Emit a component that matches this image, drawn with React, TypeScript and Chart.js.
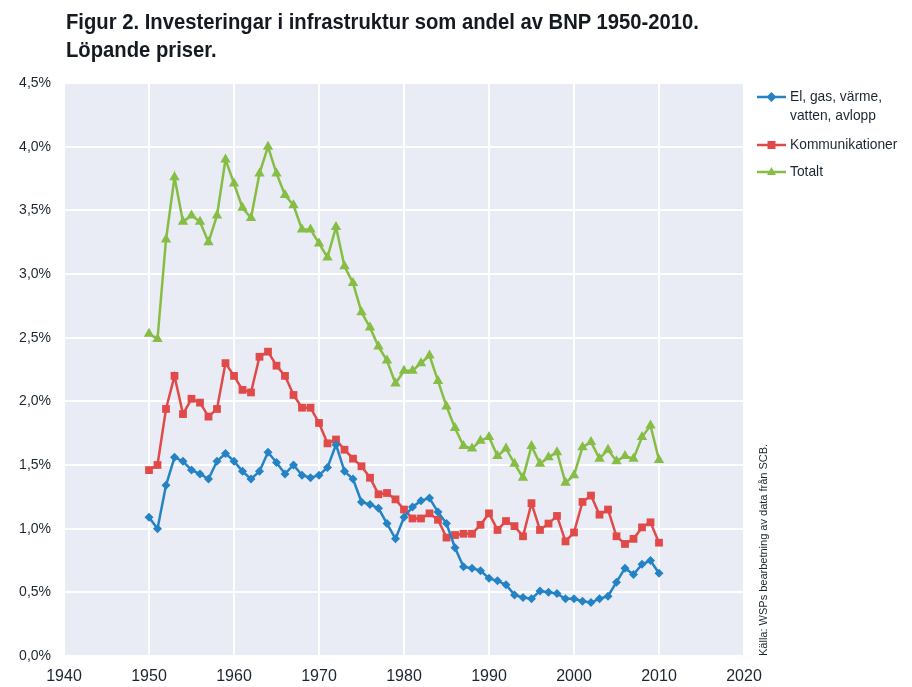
import React, { useEffect, useRef } from "react";
import { Chart, registerables } from "chart.js";

Chart.register(...registerables);

const years = [
  1950, 1951, 1952, 1953, 1954, 1955, 1956, 1957, 1958, 1959,
  1960, 1961, 1962, 1963, 1964, 1965, 1966, 1967, 1968, 1969,
  1970, 1971, 1972, 1973, 1974, 1975, 1976, 1977, 1978, 1979,
  1980, 1981, 1982, 1983, 1984, 1985, 1986, 1987, 1988, 1989,
  1990, 1991, 1992, 1993, 1994, 1995, 1996, 1997, 1998, 1999,
  2000, 2001, 2002, 2003, 2004, 2005, 2006, 2007, 2008, 2009,
  2010,
];

const elGasVarme = [
  1.09, 1.0, 1.34, 1.56, 1.53, 1.46, 1.43, 1.39, 1.53, 1.59,
  1.53, 1.45, 1.39, 1.45, 1.6, 1.52, 1.43, 1.5, 1.42, 1.4,
  1.42, 1.48, 1.66, 1.45, 1.39, 1.21, 1.19, 1.16, 1.04, 0.92,
  1.09, 1.17, 1.22, 1.24, 1.13, 1.04, 0.85, 0.7, 0.69, 0.67,
  0.61, 0.59, 0.56, 0.48, 0.46, 0.45, 0.51, 0.5, 0.49, 0.45,
  0.45, 0.43, 0.42, 0.45, 0.47, 0.58, 0.69, 0.64, 0.72, 0.75,
  0.65,
];

const kommunikationer = [
  1.46, 1.5, 1.94, 2.2, 1.9, 2.02, 1.99, 1.88, 1.94, 2.3,
  2.2, 2.09, 2.07, 2.35, 2.39, 2.28, 2.2, 2.05, 1.95, 1.95,
  1.83, 1.67, 1.7, 1.62, 1.55, 1.49, 1.4, 1.27, 1.28, 1.23,
  1.15, 1.08, 1.08, 1.12, 1.07, 0.93, 0.95, 0.96, 0.96, 1.03,
  1.12, 0.99, 1.06, 1.02, 0.94, 1.2, 0.99, 1.04, 1.1, 0.9,
  0.97, 1.21, 1.26, 1.11, 1.15, 0.94, 0.88, 0.92, 1.01, 1.05,
  0.89,
];

const totalt = [
  2.53, 2.49, 3.27, 3.76, 3.41, 3.46, 3.41, 3.25, 3.46, 3.9,
  3.71, 3.52, 3.44, 3.79, 4.0, 3.79, 3.62, 3.54, 3.35, 3.35,
  3.24, 3.13, 3.37, 3.06, 2.93, 2.7, 2.58, 2.43, 2.32, 2.14,
  2.24, 2.24, 2.3, 2.36, 2.16, 1.96, 1.79, 1.65, 1.63, 1.69,
  1.72, 1.57, 1.63, 1.51, 1.4, 1.65, 1.51, 1.56, 1.6, 1.36,
  1.42, 1.64, 1.68, 1.55, 1.62, 1.53, 1.57, 1.55, 1.72, 1.81,
  1.54,
];

const seriesLabels = [
  ["El, gas, värme,", "vatten, avlopp"],
  ["Kommunikationer"],
  ["Totalt"],
];

const titleLines = [
  "Figur 2. Investeringar i infrastruktur som andel av BNP 1950-2010.",
  "Löpande priser.",
];

const sourceText = "Källa: WSPs bearbetning av data från SCB.";

const FONT = '"Liberation Sans", Arial, sans-serif';

const BLUE = "#2483c5";
const RED = "#e04a48";
const GREEN = "#86bd45";
const TEXT = "#1d2533";

function drawMarker(ctx: CanvasRenderingContext2D, shape: string, x: number, y: number, r: number) {
  ctx.beginPath();
  if (shape === "rectRot") {
    ctx.moveTo(x, y - r);
    ctx.lineTo(x + r, y);
    ctx.lineTo(x, y + r);
    ctx.lineTo(x - r, y);
  } else if (shape === "rect") {
    ctx.rect(x - r * 0.8, y - r * 0.8, r * 1.6, r * 1.6);
  } else {
    ctx.moveTo(x, y - r);
    ctx.lineTo(x + r * 0.9, y + r * 0.6);
    ctx.lineTo(x - r * 0.9, y + r * 0.6);
  }
  ctx.closePath();
  ctx.fill();
}

const bgPlugin = {
  id: "plotBg",
  beforeDraw(chart: any) {
    const { ctx, chartArea } = chart;
    ctx.save();
    ctx.fillStyle = "#e9ecf4";
    ctx.fillRect(chartArea.left, chartArea.top, chartArea.right - chartArea.left, chartArea.bottom - chartArea.top);
    ctx.restore();
  },
};

const legendPlugin = {
  id: "customLegend",
  afterDraw(chart: any) {
    const { ctx } = chart;
    const rowsY = [97, 145, 172];
    ctx.save();
    chart.data.datasets.forEach((ds: any, i: number) => {
      const y = rowsY[i];
      ctx.strokeStyle = ds.borderColor;
      ctx.lineWidth = 2.5;
      ctx.beginPath();
      ctx.moveTo(757, y);
      ctx.lineTo(786, y);
      ctx.stroke();
      ctx.fillStyle = ds.borderColor;
      drawMarker(ctx, ds.pointStyle, 771.5, y, 5);
      ctx.fillStyle = TEXT;
      ctx.font = `15px ${FONT}`;
      ctx.textBaseline = "middle";
      ctx.textAlign = "left";
      seriesLabels[i].forEach((line, k) => {
        ctx.save();
        ctx.translate(790, y + k * 19);
        ctx.scale(0.92, 1);
        ctx.fillText(line, 0, 0);
        ctx.restore();
      });
    });
    ctx.restore();
  },
};

export default function App() {
  const ref = useRef<HTMLCanvasElement | null>(null);

  useEffect(() => {
    document.body.style.margin = "0";
    const canvas = ref.current;
    if (!canvas) return;
    const mk = (vals: number[]) => years.map((yr, i) => ({ x: yr, y: vals[i] }));
    const chart = new Chart(canvas, {
      type: "line",
      data: {
        datasets: [
          {
            label: seriesLabels[0].join(" "),
            data: mk(elGasVarme),
            borderColor: BLUE,
            backgroundColor: BLUE,
            pointStyle: "rectRot",
            pointRadius: 4.5,
            borderWidth: 2.5,
            pointBorderWidth: 0,
          },
          {
            label: seriesLabels[1].join(" "),
            data: mk(kommunikationer),
            borderColor: RED,
            backgroundColor: RED,
            pointStyle: "rect",
            pointRadius: 5.5,
            borderWidth: 2.5,
            pointBorderWidth: 0,
          },
          {
            label: seriesLabels[2].join(" "),
            data: mk(totalt),
            borderColor: GREEN,
            backgroundColor: GREEN,
            pointStyle: "triangle",
            pointRadius: 6,
            borderWidth: 2.5,
            pointBorderWidth: 0,
          },
        ],
      },
      options: {
        animation: false,
        responsive: false,
        maintainAspectRatio: false,
        layout: { padding: { left: 0, top: 83, right: 168, bottom: 0 } },
        plugins: { legend: { display: false }, tooltip: { enabled: false }, title: { display: false } },
        scales: {
          x: {
            type: "linear",
            min: 1940,
            max: 2020,
            afterFit: (s: any) => {
              s.height = 31;
            },
            ticks: {
              stepSize: 10,
              padding: 11,
              color: TEXT,
              font: { family: FONT, size: 16 },
              callback: (v: any) => String(v),
              maxRotation: 0,
            },
            grid: { color: "#ffffff", lineWidth: 2, drawTicks: false },
            border: { display: false },
          },
          y: {
            min: 0,
            max: 4.5,
            afterFit: (s: any) => {
              s.width = 64;
            },
            ticks: {
              stepSize: 0.5,
              padding: 13,
              color: TEXT,
              font: { family: FONT, size: 14 },
              callback: (v: any) => Number(v).toFixed(1).replace(".", ",") + "%",
            },
            grid: { color: "#ffffff", lineWidth: 2, drawTicks: false },
            border: { display: false },
          },
        },
      },
      plugins: [bgPlugin, legendPlugin],
    });
    return () => chart.destroy();
  }, []);

  return (
    <div style={{ position: "relative", width: 912, height: 687, background: "#fff", overflow: "hidden" }}>
      <canvas ref={ref} width={912} height={687} style={{ position: "absolute", left: 0, top: 0 }} />
      <div
        style={{
          position: "absolute",
          left: 66,
          top: 8,
          fontFamily: FONT,
          fontWeight: 700,
          fontSize: 22,
          lineHeight: "28px",
          color: "#151a22",
          whiteSpace: "nowrap",
          transform: "scaleX(0.92)",
          transformOrigin: "0 0",
        }}
      >
        {titleLines.map((t, i) => (
          <div key={i}>{t}</div>
        ))}
      </div>
      <div
        style={{
          position: "absolute",
          left: 757,
          top: 440,
          height: 216,
          writingMode: "vertical-rl",
          transform: "rotate(180deg)",
          fontFamily: FONT,
          fontSize: 11,
          color: TEXT,
          whiteSpace: "nowrap",
          textAlign: "left",
        }}
      >
        {sourceText}
      </div>
    </div>
  );
}
